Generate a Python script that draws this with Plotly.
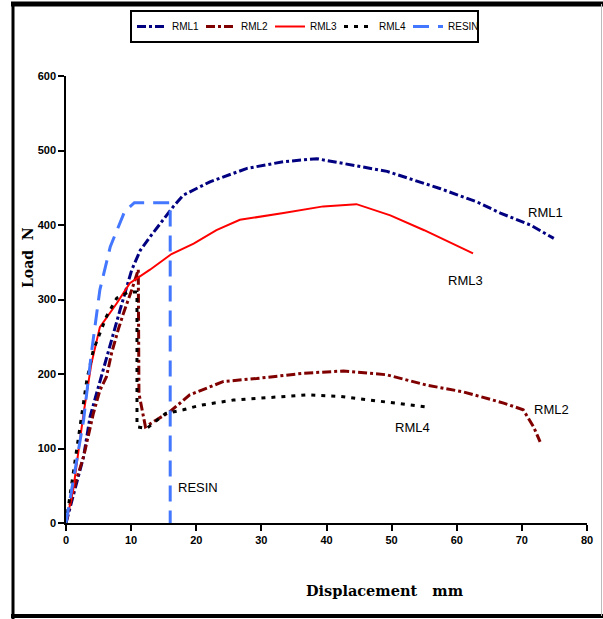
import plotly.graph_objects as go

# ---- data ----
resin_x = [0, 1.4, 2.7, 3.9, 5.2, 6.8, 9.0, 10.5, 16.0, 16.0]
resin_y = [0, 70, 138, 228, 313, 371, 418, 430, 430, 0]

rml1_x = [0, 1.2, 2.7, 3.7, 5.2, 6.8, 8.3, 10.1, 11.4, 12.9, 14.7, 16.5, 18.0, 22.1,
          27.8, 33.4, 38.5, 42.1, 49.3, 57.4, 63.1, 66.7, 71.3, 74.9]
rml1_y = [0, 40, 89, 143, 190, 241, 286, 340, 366, 384, 404, 425, 440, 458,
          476, 485, 489, 483, 472, 449, 431, 416, 400, 382]

rml2_x = [0, 0.4, 1.6, 2.7, 4.2, 5.2, 6.2, 7.0, 8.0, 8.8, 10.1, 11.1, 11.2, 12.2, 13.8,
          15.9, 19.0, 24.2, 29.3, 36.4, 42.6, 49.2, 55.4, 61.0, 67.2, 70.2, 71.8, 72.8]
rml2_y = [0, 17, 58, 89, 147, 178, 196, 228, 259, 281, 313, 340, 174, 129, 138,
          149, 172, 190, 194, 201, 204, 199, 185, 176, 161, 152, 129, 109]

rml3_x = [0, 1.1, 2.7, 3.9, 5.2, 7.8, 9.8, 12.9, 16.2, 19.6, 23.1, 26.7, 33.4, 39.5,
          44.6, 49.8, 55.0, 62.5]
rml3_y = [0, 44, 147, 214, 263, 295, 322, 340, 361, 375, 393, 407, 416, 425,
          428, 413, 393, 362]

rml4_x = [0, 1.1, 2.2, 3.2, 4.2, 6.2, 7.8, 9.6, 10.9, 10.9, 12.4, 15.3, 18.0, 20.6,
          25.7, 37.0, 42.1, 48.2, 55.1]
rml4_y = [0, 67, 129, 192, 232, 277, 302, 310, 310, 129, 127, 147, 152, 158,
          165, 172, 170, 163, 156]

x_ticks = [0, 10, 20, 30, 40, 50, 60, 70, 80]
y_ticks = [0, 100, 200, 300, 400, 500, 600]

label_text = ["RML1", "RML3", "RML2", "RML4", "RESIN"]
label_x = [73.6, 61.4, 74.5, 53.2, 20.2]
label_y = [417, 326, 152, 128, 47]

NARROW = "Liberation Sans Narrow, Liberation Sans, Arial, sans-serif"
SERIF = "DejaVu Serif, serif"

fig = go.Figure()
fig.add_trace(go.Scatter(x=rml1_x, y=rml1_y, mode="lines", name="RML1",
                         line=dict(color="#000080", width=3, dash="dashdot")))
fig.add_trace(go.Scatter(x=rml2_x, y=rml2_y, mode="lines", name="RML2",
                         line=dict(color="#800000", width=3, dash="dashdot")))
fig.add_trace(go.Scatter(x=rml3_x, y=rml3_y, mode="lines", name="RML3",
                         line=dict(color="#FF0000", width=2)))
fig.add_trace(go.Scatter(x=rml4_x, y=rml4_y, mode="lines", name="RML4",
                         line=dict(color="#000000", width=3, dash="4px,6px")))
fig.add_trace(go.Scatter(x=resin_x, y=resin_y, mode="lines", name="RESIN",
                         line=dict(color="#4477FF", width=3, dash="16px,9px")))

for t, xx, yy in zip(label_text, label_x, label_y):
    fig.add_annotation(x=xx, y=yy, text=t, showarrow=False,
                       font=dict(family=NARROW, size=13, color="black"))


def px(xp):
    return (xp - 66) / 521


def py(yp):
    return (523 - yp) / 447


# axis titles (positioned like the reference)
fig.add_annotation(xref="paper", yref="paper", x=px(385), y=py(590),
                   xanchor="center", yanchor="middle",
                   text="<b>Displacement\u00a0\u00a0\u00a0mm</b>", showarrow=False,
                   font=dict(family=SERIF, size=14.5, color="black"))
fig.add_annotation(xref="paper", yref="paper", x=px(28), y=py(258),
                   xanchor="center", yanchor="middle",
                   text="<b>Load\u00a0\u00a0N</b>", showarrow=False, textangle=-90,
                   font=dict(family=SERIF, size=14, color="black"))

# outer frame
fig.add_shape(type="line", xref="paper", yref="paper", x0=px(11), x1=px(603), y0=py(4), y1=py(4),
              line=dict(color="black", width=5))
fig.add_shape(type="line", xref="paper", yref="paper", x0=px(13), x1=px(13), y0=py(2), y1=py(619),
              line=dict(color="black", width=3))
fig.add_shape(type="line", xref="paper", yref="paper", x0=px(11), x1=px(603), y0=py(616), y1=py(616),
              line=dict(color="black", width=4))
fig.add_shape(type="line", xref="paper", yref="paper", x0=px(601.5), x1=px(601.5), y0=py(4), y1=py(616),
              line=dict(color="#bbbbbb", width=1))

fig.update_layout(
    width=603, height=619,
    margin=dict(l=66, r=16, t=76, b=96, autoexpand=False),
    paper_bgcolor="white", plot_bgcolor="white",
    showlegend=True,
    legend=dict(orientation="h", x=px(130), y=py(10), xanchor="left", yanchor="top",
                bordercolor="black", borderwidth=2, bgcolor="white",
                font=dict(family=NARROW, size=10, color="black"),
                itemwidth=30, tracegroupgap=0, entrywidth=24, entrywidthmode="pixels"),
    xaxis=dict(range=[0, 80], tickvals=x_ticks, ticktext=["<b>%d</b>" % v for v in x_ticks],
               showgrid=False, zeroline=False, showline=True, linecolor="black", linewidth=1.5,
               ticks="outside", ticklen=6, tickwidth=1.5, tickcolor="black",
               tickfont=dict(family=NARROW, size=11, color="black")),
    yaxis=dict(range=[0, 600], tickvals=y_ticks, ticktext=["<b>%d</b>" % v for v in y_ticks],
               showgrid=False, zeroline=False, showline=True, linecolor="black", linewidth=1.5,
               ticks="outside", ticklen=6, tickwidth=1.5, tickcolor="black",
               tickfont=dict(family=NARROW, size=11, color="black")),
)

fig.write_html("out.html", config={"displayModeBar": False},
               post_script="document.body.style.margin='0';document.body.style.overflow='hidden';")
